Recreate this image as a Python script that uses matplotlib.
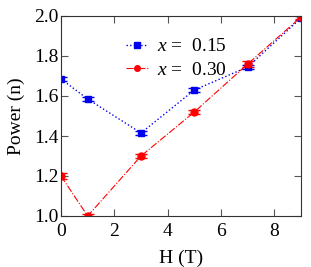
import matplotlib.pyplot as plt
from matplotlib.lines import Line2D

plt.rcParams['font.family'] = ['Liberation Serif', 'DejaVu Serif']
plt.rcParams['mathtext.fontset'] = 'custom'
plt.rcParams['mathtext.it'] = 'Liberation Serif:italic'
plt.rcParams['mathtext.rm'] = 'Liberation Serif'

# données
field = [0, 1, 3, 5, 7, 9]
power_015 = [1.685, 1.585, 1.415, 1.63, 1.745, 1.99]
err_015 = [0.012, 0.01, 0.01, 0.01, 0.01, 0.01]
power_030 = [1.2, 1.0, 1.3, 1.52, 1.76, 1.995]
err_030 = [0.015, 0.008, 0.01, 0.01, 0.015, 0.01]

BLUE = "#0000ee"
RED = "#ff0000"

fig = plt.figure(figsize=(3.11, 2.67), dpi=100)
ax = fig.add_axes([61 / 311, 51 / 267, 240 / 311, 200 / 267])

ax.errorbar(field, power_015, yerr=err_015, color=BLUE, marker="s", markersize=5,
            linestyle=":", linewidth=1, capsize=4)
ax.errorbar(field, power_030, yerr=err_030, color=RED, marker="o", markersize=5,
            linestyle="-.", linewidth=0.8, capsize=4)

ax.set_xlim(0, 9)
ax.set_ylim(1.0, 2.0)
ax.set_xticks([0, 2, 4, 6, 8])
ax.set_yticks([1.0, 1.2, 1.4, 1.6, 1.8, 2.0])
ax.tick_params(direction="in", top=True, right=True, labelsize=14, length=5, width=0.8,
               colors="#555555", labelcolor="black")
ax.tick_params(axis="x", pad=5)
ax.tick_params(axis="y", pad=2)
for sp in ax.spines.values():
    sp.set_color("#333333")
ax.set_xlabel("H (T)", fontsize=14, labelpad=7)
ax.set_ylabel("Power (n)", fontsize=14, labelpad=6)

handles = [
    Line2D([], [], color=BLUE, marker="s", markersize=4, linestyle=":", linewidth=1),
    Line2D([], [], color=RED, marker="o", markersize=4, linestyle="-.", linewidth=0.8),
]
ax.legend(handles, ["$x$ =  0.15", "$x$ =  0.30"], loc="upper left",
          bbox_to_anchor=(0.24, 0.93), frameon=False, fontsize=14,
          handlelength=1.1, handletextpad=0.5, labelspacing=0.3, borderaxespad=0)

plt.savefig("out.png", dpi=100)
